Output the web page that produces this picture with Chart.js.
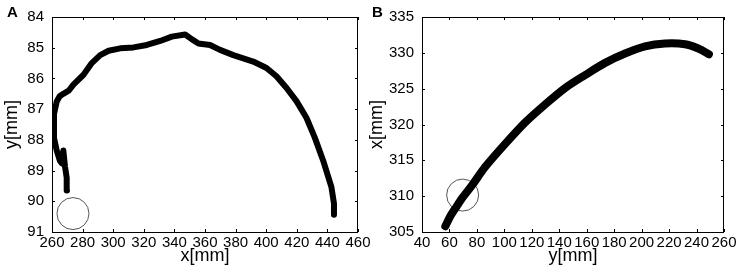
<!DOCTYPE html>
<html>
<head>
<meta charset="utf-8">
<script src="https://cdn.jsdelivr.net/npm/chart.js@4.4.1/dist/chart.umd.min.js"></script>
<style>
  body { margin: 0; background: #fff; width: 743px; height: 271px; overflow: hidden; position: relative; }
  canvas { position: absolute; top: 0; }
  .tag { position: absolute; font: bold 15px "Liberation Sans", Arial, sans-serif; color: #000; }
</style>
</head>
<body>
<canvas id="chartA" width="380" height="271" style="left:0"></canvas>
<canvas id="chartB" width="381" height="271" style="left:362px"></canvas>
<div class="tag" style="left:7px;top:3px">A</div>
<div class="tag" style="left:372px;top:3px">B</div>
<script>
// panel A: trajectory in the x-y plane
const pathAx = [269.8, 269.6, 268.5, 267.4, 266.5, 265.2, 263.1, 261.3, 261.3, 263.1, 265.0, 267.4, 270.9, 274.0,
    280.6, 286.0, 291.5, 297.0, 304.6, 313.3, 322.0, 330.7, 338.3, 347.0, 351.3, 355.7, 363.3, 369.8, 378.5,
    391.5, 400.2, 406.7, 413.3, 419.8, 426.3, 431.7, 437.2, 442.6, 444.3, 444.3];
const pathAy = [89.65, 89.23, 88.87, 88.35, 88.77, 88.68, 88.35, 87.94, 87.16, 86.75, 86.58, 86.5, 86.4, 86.2,
    85.88, 85.5, 85.24, 85.1, 85.02, 84.99, 84.91, 84.78, 84.64, 84.57, 84.72, 84.86, 84.91, 85.07, 85.24,
    85.45, 85.66, 85.93, 86.31, 86.74, 87.28, 87.92, 88.67, 89.53, 90.07, 90.44];
const circleA = [273.7, 90.4];

// panel B: trajectory in the y-x plane
const pathBx = [57, 60.6, 64.3, 69.1, 76.4, 86.1, 100.6, 115.2, 129.7, 144.3, 158.8, 173.4, 187.9, 202.5, 217,
    231.6, 241.3, 249];
const pathBy = [305.8, 307.2, 308.3, 309.7, 311.5, 314.1, 317.3, 320.3, 322.8, 325.1, 326.9, 328.6, 329.9,
    330.9, 331.3, 331.2, 330.6, 329.8];
const circleB = [69.6, 310.15];

const fontFam = '"Liberation Sans", Arial, sans-serif';

// box around plot area with inward ticks on all four sides
const frameTicks = {
    id: 'frameTicks',
    afterDraw(chart) {
        const ctx = chart.ctx;
        const a = chart.chartArea;
        const sx = chart.scales.x, sy = chart.scales.y;
        ctx.save();
        ctx.strokeStyle = '#000';
        ctx.lineWidth = 1;
        ctx.beginPath();
        sx.ticks.forEach(t => {
            const p = Math.round(sx.getPixelForValue(t.value)) + 0.5;
            ctx.moveTo(p, a.bottom); ctx.lineTo(p, a.bottom - 3);
            ctx.moveTo(p, a.top); ctx.lineTo(p, a.top + 3);
        });
        sy.ticks.forEach(t => {
            const p = Math.round(sy.getPixelForValue(t.value)) + 0.5;
            ctx.moveTo(a.left, p); ctx.lineTo(a.left + 3, p);
            ctx.moveTo(a.right, p); ctx.lineTo(a.right - 3, p);
        });
        ctx.stroke();
        ctx.strokeRect(Math.round(a.left) + 0.5, Math.round(a.top) + 0.5,
            Math.round(a.right - a.left) - 1, Math.round(a.bottom - a.top));
        ctx.restore();
    }
};

function makeChart(id, xs, ys, circ, cfg) {
    const pts = xs.map((v, i) => ({ x: v, y: ys[i] }));
    return new Chart(document.getElementById(id), {
        type: 'scatter',
        data: {
            datasets: [{
                data: pts,
                showLine: true,
                borderColor: '#000',
                borderWidth: cfg.lineW,
                borderJoinStyle: 'round',
                borderCapStyle: 'round',
                tension: cfg.tension,
                pointRadius: 0
            }, {
                data: [{ x: circ[0], y: circ[1] }],
                pointRadius: 16,
                pointBorderColor: '#555',
                pointBorderWidth: 1,
                pointBackgroundColor: 'rgba(0,0,0,0)'
            }]
        },
        options: {
            responsive: false,
            animation: false,
            devicePixelRatio: 1,
            layout: { padding: { top: 15, right: cfg.padRight, left: 0, bottom: 0 } },
            plugins: { legend: { display: false }, tooltip: { enabled: false } },
            scales: {
                x: {
                    type: 'linear', min: cfg.xMin, max: cfg.xMax,
                    grid: { display: false, drawTicks: false },
                    border: { display: false },
                    ticks: { stepSize: 20, padding: 2, color: '#000', maxRotation: 0, autoSkip: false,
                        font: { family: fontFam, size: 15 } },
                    title: { display: true, text: cfg.xTitle, color: '#000', padding: { top: 0, bottom: 4 },
                        font: { family: fontFam, size: 18 } },
                    afterFit: s => { s.height = 39; }
                },
                y: {
                    type: 'linear', min: cfg.yMin, max: cfg.yMax, reverse: cfg.reverse,
                    grid: { display: false, drawTicks: false },
                    border: { display: false },
                    ticks: { stepSize: cfg.yStep, padding: 8, color: '#000', autoSkip: false,
                        font: { family: fontFam, size: 15 } },
                    title: { display: true, text: cfg.yTitle, color: '#000', padding: { top: cfg.yTitlePad, bottom: 0 },
                        font: { family: fontFam, size: 18 } },
                    afterFit: s => { s.width = cfg.yWidth; }
                }
            }
        },
        plugins: [frameTicks]
    });
}

makeChart('chartA', pathAx, pathAy, circleA, {
    xMin: 260, xMax: 460, yMin: 84, yMax: 91, yStep: 1, reverse: true,
    xTitle: 'x[mm]', yTitle: 'y[mm]', yWidth: 52, padRight: 22, yTitlePad: 1, lineW: 6, tension: 0
});
makeChart('chartB', pathBx, pathBy, circleB, {
    xMin: 40, xMax: 260, yMin: 305, yMax: 335, yStep: 5, reverse: false,
    xTitle: 'y[mm]', yTitle: 'x[mm]', yWidth: 60, padRight: 19, yTitlePad: 4, lineW: 8, tension: 0.3
});
</script>
</body>
</html>
